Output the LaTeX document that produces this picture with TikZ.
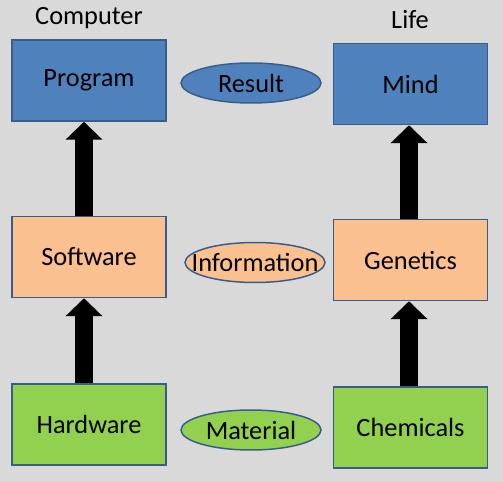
\documentclass[tikz,border=0pt]{standalone}
\usepackage{fontspec}
\setmainfont{Carlito}
\usepackage{xcolor}
\usetikzlibrary{arrows.meta,shapes.geometric}

\definecolor{bgGray}{HTML}{D9D9D9}
\definecolor{edgeBlue}{HTML}{385D8A}
\definecolor{topBlue}{HTML}{4F81BD}
\definecolor{midPeach}{HTML}{FAC090}
\definecolor{lowGreen}{HTML}{92D050}

\tikzset{
	box/.style={draw=edgeBlue, line width=0.85pt, minimum width=3.08cm, minimum height=1.62cm, inner sep=0pt},
	oval/.style={ellipse, draw=edgeBlue, line width=0.85pt, minimum width=2.8cm, minimum height=0.8cm, inner xsep=-0.32cm, inner ysep=-0.1cm},
	uparrow/.style={line width=0.36cm, -{Triangle[width=0.72cm,length=0.36cm]}}
}

\begin{document}
\begin{tikzpicture}[x=0.02cm, y=-0.02cm, font=\fontsize{15}{18}\selectfont]
		% Background
		\fill[bgGray] (0,0) rectangle (503,482);
		\useasboundingbox (0,0) rectangle (503,482);
		% Picture nodes
		%% Titles
		\node (comp) at (89, 18) {Computer};
		\node (life) at (410, 20) {Life};
		%% Left column
		\node[box, fill=topBlue] (prog) at (89, 80.5) {Program};
		\node[box, fill=midPeach] (soft) at (89, 257) {Software};
		\node[box, fill=lowGreen] (hard) at (89, 424.5) {Hardware};
		%% Middle column
		\node[oval, fill=topBlue] (res) at (251, 83) {Result};
		\node[oval, fill=midPeach] (info) at (255, 262.5) {Information};
		\node[oval, fill=lowGreen] (mat) at (251, 430) {Material};
		%% Right column
		\node[box, fill=topBlue] (mind) at (410.5, 84) {Mind};
		\node[box, fill=midPeach] (gen) at (410.5, 260) {Genetics};
		\node[box, fill=lowGreen] (chem) at (410.5, 427.5) {Chemicals};
		% Picture arcs
		%% Left arrows
		\draw[uparrow] ([xshift=-0.1cm]hard.north) to ([xshift=-0.1cm]soft.south);
		\draw[uparrow] ([xshift=-0.1cm]soft.north) to ([xshift=-0.1cm]prog.south);
		%% Right arrows
		\draw[uparrow] ([xshift=-0.03cm]chem.north) to ([xshift=-0.03cm]gen.south);
		\draw[uparrow] ([xshift=-0.03cm]gen.north) to ([xshift=-0.03cm]mind.south);
	\end{tikzpicture}
\end{document}
